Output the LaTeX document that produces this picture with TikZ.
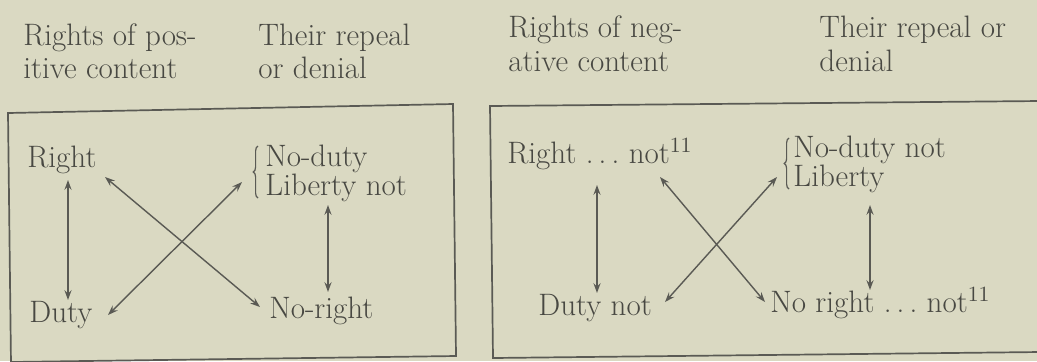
\documentclass[tikz,border=0pt]{standalone}
\usetikzlibrary{arrows.meta,decorations.pathreplacing}
\definecolor{paper}{RGB}{218,217,194}
\definecolor{ink}{RGB}{72,72,66}
\definecolor{rule}{RGB}{90,90,84}
\begin{document}
\begin{tikzpicture}[x=0.5pt,y=-0.5pt,
  lbl/.style={anchor=base west,inner sep=0pt,text=ink,font=\fontsize{15.5}{18}\selectfont},
  dbl/.style={draw=rule,line width=0.7pt,{Stealth[length=5pt,width=3.6pt,inset=1.8pt]}-{Stealth[length=5pt,width=3.6pt,inset=1.8pt]}},
  frame/.style={draw=rule,line width=0.85pt},
  brc/.style={draw=rule,line width=0.6pt,decorate,decoration={brace,amplitude=2.4pt}}]
\fill[paper] (0,0) rectangle (1037,361);
\useasboundingbox (0,0) rectangle (1037,361);
% frames
\draw[frame] (11,364) -- (8,113) -- (453,104) -- (456,356) -- (11,362);
\draw[frame] (1040,101) -- (490,106) -- (493,358) -- (1040,352);
% headers
\node[lbl] (h1a) at (23,45) {Rights of pos-};
\node[lbl] (h1b) at (23,78) {itive content};
\node[lbl] (h2a) at (258,45) {Their repeal};
\node[lbl] (h2b) at (258,78) {or denial};
\node[lbl] (h3a) at (508,37) {Rights of neg-};
\node[lbl] (h3b) at (508,71) {ative content};
\node[lbl] (h4a) at (819,37) {Their repeal or};
\node[lbl] (h4b) at (819,71) {denial};
% left box
\node[lbl] (R1) at (27,167) {Right};
\node[lbl] (D1) at (29,322) {Duty};
\node[lbl] (ND1) at (265,166) {No-duty};
\node[lbl] (L1) at (265,195) {Liberty not};
\node[lbl] (NR1) at (269,318) {No-right};
\draw[brc] ([shift={(-7,3)}]L1.base west) -- ([shift={(-7,-20)}]ND1.base west);
\draw[dbl] ([shift={(41,13)}]R1.base west) -- ([shift={(39,-22)}]D1.base west);
\draw[dbl] ([shift={(78,10)}]R1.base west) -- ([shift={(-9,-11)}]NR1.base west);
\draw[dbl] ([shift={(79,-7)}]D1.base west) -- ([shift={(-23,-13)}]L1.base west);
\draw[dbl] ([shift={(63,10)}]L1.base west) -- ([shift={(59,-26)}]NR1.base west);
% right box
\node[lbl] (R2) at (507,163) {Right~.\,.\,.~not\textsuperscript{11}};
\node[lbl] (D2) at (538,315) {Duty not};
\node[lbl] (ND2) at (793,157) {No-duty not};
\node[lbl] (L2) at (793,186) {Liberty};
\node[lbl] (NR2) at (770,312) {No right~.\,.\,.~not\textsuperscript{11}};
\draw[brc] ([shift={(-4,3)}]L2.base west) -- ([shift={(-4,-19)}]ND2.base west);
\draw[dbl] ([shift={(90,22)}]R2.base west) -- ([shift={(59,-22)}]D2.base west);
\draw[dbl] ([shift={(153,14)}]R2.base west) -- ([shift={(-5,-10)}]NR2.base west);
\draw[dbl] ([shift={(127,-13)}]D2.base west) -- ([shift={(-16,-9)}]L2.base west);
\draw[dbl] ([shift={(77,19)}]L2.base west) -- ([shift={(100,-22)}]NR2.base west);
\end{tikzpicture}
\end{document}
